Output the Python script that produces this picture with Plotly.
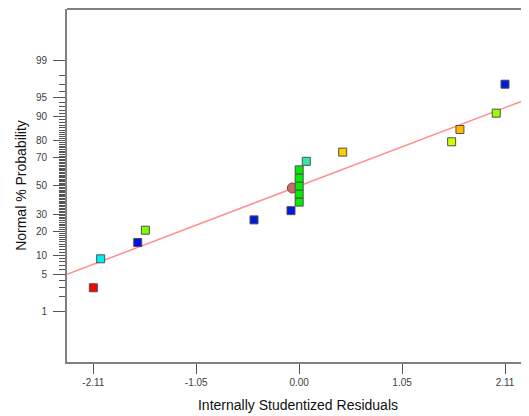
import plotly.graph_objects as go
from statistics import NormalDist

nd = NormalDist()

# Data
residuals = [-2.11, -2.035, -1.655, -1.577, -0.463, -0.084, 0.0, 0.0, 0.0, 0.0, 0.0,
             0.073, 0.446, 1.563, 1.648, 2.02, 2.11]
probabilities = [2.94, 8.82, 14.71, 20.59, 26.47, 32.35, 38.24, 44.12, 50.0, 55.88,
                 61.76, 67.65, 73.53, 79.41, 85.29, 91.18, 97.06]
point_colors = ["#FF0000", "#00F0F0", "#0010E8", "#80FF00", "#0018E0", "#0018E0",
                "#00EE00", "#00EE00", "#00EE00", "#00EE00", "#00EE00",
                "#30EBA0", "#FFCC00", "#CCFF00", "#FFB800", "#99FF00", "#0018E0"]
center_x = [-0.07]
center_p = [48.5]
fit_slope = 0.689
fit_intercept = 0.0
x_range = [-2.38, 2.356]
y_range_z = [-3.268, 3.286]
x_tick_vals = [-2.11, -1.055, 0.0, 1.055, 2.11]
x_tick_text = ["-2.11", "-1.05", "0.00", "1.05", "2.11"]
y_major = [1, 5, 10, 20, 30, 50, 70, 80, 90, 95, 99]
y_minor = [p for p in range(1, 100) if p not in y_major]


def z(p):
    return nd.inv_cdf(p / 100.0)


fig = go.Figure()

# fitted line
line_z = [fit_intercept + fit_slope * xv for xv in x_range]
fig.add_trace(go.Scatter(x=x_range, y=line_z, mode="lines",
                         line=dict(color="#FF8F8F", width=1.5),
                         hoverinfo="skip", showlegend=False))

fig.add_trace(go.Scatter(x=center_x, y=[z(p) for p in center_p], mode="markers",
                         marker=dict(symbol="circle", size=10, color="#C46A6A",
                                     line=dict(color="#7A4040", width=1)),
                         showlegend=False))

fig.add_trace(go.Scatter(x=residuals, y=[z(p) for p in probabilities], mode="markers",
                         marker=dict(symbol="square", size=8, color=point_colors,
                                     line=dict(color="#505050", width=1)),
                         showlegend=False))

# page body has an 8px margin, so the figure is sized to fill the rest of the window
fig.update_layout(
    width=521, height=408,
    margin=dict(l=59, r=0, t=1, b=54, autoexpand=False),
    paper_bgcolor="white", plot_bgcolor="white",
    font=dict(family="Arial, Liberation Sans, sans-serif", color="#404040", size=10),
    xaxis=dict(range=x_range, tickmode="array", tickvals=x_tick_vals, ticktext=x_tick_text,
               ticks="outside", ticklen=10, tickwidth=1.2, tickcolor="#555555",
               showline=True, linecolor="#808080", linewidth=2, showgrid=False,
               zeroline=False, tickfont=dict(size=10, color="#404040"),
               automargin=False,
               title=dict(text="Internally Studentized Residuals",
                          font=dict(size=14, color="#111111"), standoff=13)),
    yaxis=dict(range=y_range_z, tickmode="array", tickvals=[z(p) for p in y_major],
               ticktext=[str(p) for p in y_major],
               ticks="outside", ticklen=12, tickwidth=1.2, tickcolor="#555555",
               ticklabelstandoff=4,
               minor=dict(tickmode="array", tickvals=[z(p) for p in y_minor],
                          ticks="outside", ticklen=6, tickwidth=1, tickcolor="#555555",
                          showgrid=False),
               showline=True, linecolor="#808080", linewidth=2, showgrid=False,
               zeroline=False, tickfont=dict(size=10, color="#404040"),
               automargin=False,
               title=dict(text="Normal % Probability",
                          font=dict(size=14, color="#111111"), standoff=6)),
    shapes=[dict(type="line", xref="paper", yref="paper", x0=0, x1=1, y0=1, y1=1,
                 line=dict(color="#808080", width=2))],
)

fig.write_html("out.html")
